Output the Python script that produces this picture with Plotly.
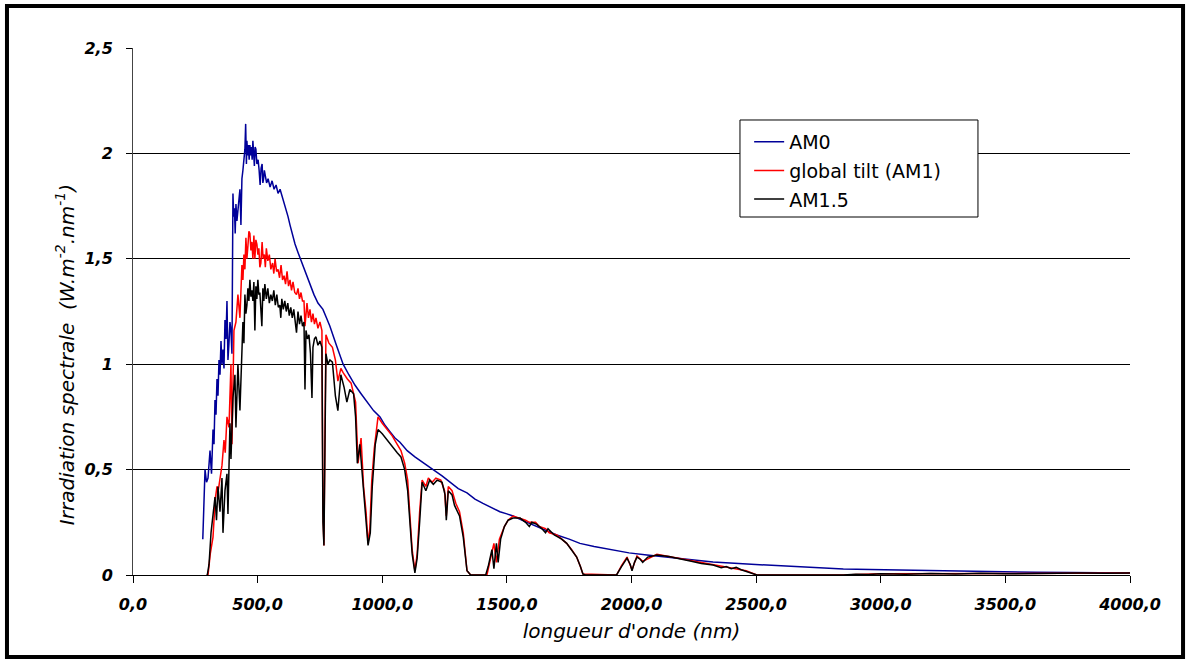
import plotly.graph_objects as go

# Spectral irradiance (W.m-2.nm-1) against wavelength (nm), read as (nm, value) pairs
AM0 = [
    (280, 0.17), (289, 0.50), (295, 0.44), (301, 0.46), (309, 0.59), (315, 0.48),
    (321, 0.69), (325, 0.62), (329, 0.83), (333, 0.76), (337, 0.93), (341, 0.85),
    (345, 1.02), (349, 0.95), (353, 1.11), (357, 1.00), (361, 1.07), (365, 0.98),
    (369, 1.21), (373, 1.12), (377, 1.30), (381, 1.02), (385, 1.10), (389, 1.20),
    (393, 1.16), (397, 1.05), (401, 1.81), (404, 1.70), (407, 1.74), (410, 1.62),
    (413, 1.76), (417, 1.68), (421, 1.73), (425, 1.80), (429, 1.83), (433, 1.66),
    (437, 1.88), (441, 1.92), (445, 1.98), (449, 2.02), (452, 2.14), (455, 1.95),
    (457, 2.06), (460, 1.99), (463, 2.04), (466, 1.97), (469, 2.04), (472, 1.99),
    (475, 2.03), (478, 1.97), (481, 2.06), (484, 1.98), (487, 1.94), (490, 2.03),
    (493, 2.02), (497, 1.95), (502, 1.97), (506, 1.92), (510, 1.85), (514, 1.93),
    (518, 1.95), (521, 1.86), (524, 1.88), (527, 1.92), (530, 1.90), (536, 1.86),
    (542, 1.88), (550, 1.84), (558, 1.87), (566, 1.83), (574, 1.85), (582, 1.81),
    (590, 1.83), (598, 1.80), (606, 1.76), (614, 1.73), (622, 1.70), (630, 1.66),
    (638, 1.62), (650, 1.57), (662, 1.53), (678, 1.48), (694, 1.42), (710, 1.37),
    (726, 1.33), (742, 1.29), (762, 1.26), (776, 1.22), (790, 1.18), (816, 1.09),
    (843, 1.00), (866, 0.95), (891, 0.90), (915, 0.86), (939, 0.82), (965, 0.78),
    (991, 0.75), (1011, 0.71), (1031, 0.68), (1051, 0.65), (1071, 0.63), (1100, 0.59),
    (1131, 0.56), (1165, 0.53), (1204, 0.50), (1240, 0.47), (1272, 0.44), (1305, 0.41),
    (1340, 0.39), (1372, 0.36), (1404, 0.34), (1440, 0.32), (1472, 0.30), (1500, 0.29),
    (1525, 0.28), (1560, 0.26), (1600, 0.24), (1653, 0.21), (1700, 0.19), (1750, 0.17),
    (1793, 0.15), (1850, 0.135), (1914, 0.12), (1990, 0.105), (2062, 0.095), (2130, 0.086),
    (2195, 0.077), (2260, 0.069), (2327, 0.062), (2430, 0.054), (2544, 0.047), (2640, 0.040),
    (2744, 0.033), (2850, 0.029), (2957, 0.026), (3080, 0.023), (3198, 0.020), (3340, 0.017),
    (3478, 0.015), (3620, 0.013), (3759, 0.012), (3880, 0.011), (4000, 0.010),
]

GLOBAL_TILT = [
    (295, 0.0), (301, 0.0), (310, 0.10), (321, 0.18), (330, 0.36), (337, 0.42),
    (342, 0.40), (350, 0.48), (357, 0.52), (365, 0.64), (370, 0.58), (377, 0.75),
    (385, 0.70), (393, 1.00), (397, 0.62), (405, 1.16), (413, 1.20), (421, 1.33),
    (429, 1.22), (437, 1.47), (441, 1.40), (445, 1.52), (449, 1.45), (453, 1.60),
    (457, 1.50), (461, 1.56), (465, 1.63), (469, 1.62), (473, 1.54), (477, 1.58),
    (481, 1.50), (485, 1.61), (489, 1.50), (493, 1.59), (497, 1.57), (501, 1.52),
    (505, 1.55), (509, 1.46), (513, 1.48), (518, 1.58), (522, 1.50), (527, 1.52),
    (531, 1.46), (535, 1.55), (541, 1.49), (547, 1.52), (553, 1.45), (560, 1.48),
    (565, 1.43), (570, 1.50), (576, 1.44), (582, 1.45), (588, 1.41), (594, 1.47),
    (600, 1.40), (606, 1.42), (612, 1.38), (618, 1.44), (624, 1.37), (630, 1.40),
    (636, 1.35), (642, 1.39), (649, 1.34), (656, 1.33), (662, 1.36), (668, 1.31),
    (674, 1.34), (680, 1.30), (686, 1.30), (690, 1.18), (698, 1.29), (704, 1.22),
    (710, 1.26), (716, 1.20), (722, 1.24), (728, 1.19), (734, 1.22), (742, 1.17),
    (750, 1.20), (758, 1.16), (762, 0.30), (766, 0.14), (770, 0.80), (774, 1.14),
    (786, 1.10), (800, 1.08), (812, 1.02), (822, 0.92), (834, 0.98), (843, 0.96),
    (860, 0.93), (875, 0.91), (893, 0.82), (903, 0.53), (915, 0.65), (925, 0.42),
    (935, 0.30), (943, 0.15), (950, 0.22), (958, 0.45), (968, 0.60), (983, 0.75),
    (1000, 0.72), (1019, 0.69), (1040, 0.66), (1060, 0.62), (1075, 0.59), (1090, 0.53),
    (1102, 0.45), (1110, 0.30), (1120, 0.12), (1131, 0.02), (1140, 0.10), (1150, 0.30),
    (1160, 0.45), (1175, 0.42), (1185, 0.46), (1200, 0.44), (1215, 0.46), (1235, 0.45),
    (1250, 0.40), (1257, 0.28), (1265, 0.42), (1280, 0.40), (1295, 0.34), (1310, 0.30),
    (1325, 0.20), (1340, 0.02), (1355, 0.0), (1420, 0.0), (1430, 0.05), (1448, 0.15),
    (1458, 0.06), (1470, 0.17), (1490, 0.23), (1505, 0.26), (1525, 0.28), (1553, 0.27),
    (1575, 0.26), (1590, 0.25), (1615, 0.25), (1630, 0.23), (1655, 0.22), (1670, 0.20),
    (1700, 0.19), (1720, 0.17), (1740, 0.15), (1760, 0.12), (1780, 0.085), (1795, 0.04),
    (1805, 0.005), (1940, 0.0), (1960, 0.045), (1982, 0.085), (2002, 0.025), (2022, 0.09),
    (2045, 0.065), (2102, 0.098), (2195, 0.078), (2327, 0.05), (2400, 0.035), (2460, 0.02),
    (2503, 0.0), (2850, 0.0), (3000, 0.006), (3500, 0.007), (4000, 0.009),
]

AM15 = [
    (298, 0.0), (305, 0.05), (313, 0.20), (321, 0.28), (329, 0.37), (335, 0.26),
    (341, 0.42), (349, 0.30), (357, 0.46), (361, 0.20), (369, 0.40), (377, 0.48),
    (381, 0.29), (389, 0.72), (393, 0.55), (401, 0.84), (409, 0.95), (413, 0.70),
    (421, 1.00), (429, 0.78), (433, 0.95), (441, 1.20), (445, 1.10), (449, 1.33),
    (453, 1.24), (457, 1.28), (461, 1.36), (465, 1.30), (469, 1.40), (473, 1.32),
    (477, 1.35), (481, 1.30), (485, 1.39), (489, 1.16), (493, 1.37), (497, 1.31),
    (501, 1.40), (505, 1.33), (509, 1.34), (513, 1.28), (517, 1.18), (521, 1.36),
    (525, 1.30), (529, 1.38), (535, 1.31), (541, 1.36), (547, 1.29), (553, 1.33),
    (559, 1.30), (565, 1.35), (571, 1.28), (577, 1.33), (583, 1.27), (589, 1.28),
    (593, 1.22), (597, 1.31), (603, 1.26), (609, 1.30), (615, 1.25), (621, 1.29),
    (627, 1.23), (633, 1.27), (639, 1.22), (645, 1.26), (651, 1.21), (656, 1.15),
    (662, 1.25), (668, 1.19), (674, 1.23), (680, 1.18), (686, 1.20), (690, 0.88),
    (694, 1.16), (700, 1.12), (706, 1.14), (712, 1.05), (718, 0.84), (722, 1.08),
    (728, 1.12), (734, 1.13), (742, 1.09), (750, 1.11), (758, 1.08), (762, 0.25),
    (766, 0.14), (770, 0.70), (774, 1.05), (782, 1.00), (790, 1.02), (800, 1.01),
    (812, 0.85), (822, 0.78), (834, 0.95), (847, 0.89), (858, 0.82), (870, 0.88),
    (885, 0.86), (893, 0.75), (900, 0.53), (910, 0.62), (925, 0.38), (935, 0.25),
    (943, 0.14), (952, 0.20), (960, 0.42), (972, 0.62), (983, 0.69), (1000, 0.67),
    (1019, 0.64), (1040, 0.61), (1060, 0.58), (1075, 0.56), (1090, 0.50), (1102, 0.40),
    (1110, 0.25), (1120, 0.10), (1131, 0.01), (1140, 0.08), (1150, 0.25), (1160, 0.44),
    (1175, 0.40), (1190, 0.45), (1205, 0.43), (1220, 0.45), (1240, 0.44), (1252, 0.38),
    (1257, 0.26), (1265, 0.40), (1280, 0.38), (1290, 0.33), (1310, 0.28), (1325, 0.18),
    (1340, 0.02), (1355, 0.0), (1415, 0.0), (1425, 0.04), (1440, 0.12), (1448, 0.03),
    (1458, 0.15), (1465, 0.06), (1475, 0.17), (1490, 0.23), (1505, 0.26), (1525, 0.27),
    (1553, 0.27), (1575, 0.25), (1590, 0.23), (1600, 0.25), (1620, 0.24), (1640, 0.22),
    (1655, 0.20), (1665, 0.22), (1690, 0.19), (1720, 0.17), (1740, 0.15), (1760, 0.12),
    (1780, 0.085), (1795, 0.04), (1805, 0.005), (1815, 0.0), (1940, 0.0), (1960, 0.04),
    (1982, 0.08), (1995, 0.05), (2002, 0.02), (2012, 0.06), (2022, 0.085), (2035, 0.075),
    (2045, 0.06), (2065, 0.085), (2102, 0.095), (2150, 0.088), (2195, 0.075), (2240, 0.065),
    (2280, 0.055), (2327, 0.047), (2360, 0.035), (2380, 0.040), (2400, 0.030), (2420, 0.036),
    (2440, 0.025), (2460, 0.018), (2480, 0.010), (2503, 0.0), (2850, 0.0), (2900, 0.004),
    (2950, 0.002), (3000, 0.006), (3100, 0.004), (3200, 0.007), (3300, 0.005), (3400, 0.008),
    (3500, 0.006), (3600, 0.008), (3700, 0.007), (3800, 0.009), (3900, 0.008), (4000, 0.009),
]

SERIES_NAMES = ["AM0", "global tilt (AM1)", "AM1.5"]
SERIES_COLORS = ["#000099", "#ff0000", "#000000"]

X_TICKS = [0, 500, 1000, 1500, 2000, 2500, 3000, 3500, 4000]
X_TICK_TEXT = ["0,0", "500,0", "1000,0", "1500,0", "2000,0", "2500,0", "3000,0", "3500,0", "4000,0"]
Y_TICKS = [0, 0.5, 1, 1.5, 2, 2.5]
Y_TICK_TEXT = ["0", "0,5", "1", "1,5", "2", "2,5"]

TICK_FONT = dict(family="DejaVu Sans", size=16, color="black", weight="bold", style="italic")
TITLE_FONT = dict(family="DejaVu Sans", size=20, color="black", style="italic")

fig = go.Figure()
for name, color, data in zip(SERIES_NAMES, SERIES_COLORS, [AM0, GLOBAL_TILT, AM15]):
    xs = [p[0] for p in data]
    ys = [p[1] for p in data]
    fig.add_trace(go.Scatter(
        x=xs, y=ys, mode="lines", name=name, legendgroup=name,
        line=dict(color=color, width=1.5),
    ))

# plot area: 133..1130 px horizontally, 48..575 px vertically
fig.update_layout(
    width=1190, height=664,
    margin=dict(l=133, r=60, t=48, b=89),
    paper_bgcolor="white", plot_bgcolor="white",
    showlegend=True,
    legend=dict(
        x=0.618, y=0.858, xanchor="left", yanchor="top",
        bgcolor="rgba(0,0,0,0)", borderwidth=0,
        font=dict(family="DejaVu Sans", size=19, color="black"),
        tracegroupgap=1,
    ),
    xaxis=dict(
        range=[0, 4000], tickvals=X_TICKS, ticktext=X_TICK_TEXT,
        showgrid=False, zeroline=False,
        showline=True, linecolor="black", linewidth=1,
        ticks="outside", ticklen=7, tickcolor="black",
        tickfont=TICK_FONT, ticklabelstandoff=8,
        title=dict(text="longueur d'onde (nm)", font=TITLE_FONT, standoff=10),
    ),
    yaxis=dict(
        range=[0, 2.5], tickvals=Y_TICKS, ticktext=Y_TICK_TEXT,
        showgrid=True, gridcolor="black", gridwidth=1, zeroline=False,
        showline=True, linecolor="#444444", linewidth=1,
        ticks="outside", ticklen=6, tickcolor="black",
        tickfont=TICK_FONT, ticklabelstandoff=10,
    ),
    annotations=[dict(
        text="Irradiation spectrale  (W.m<sup>-2</sup>.nm<sup>-1</sup>)",
        xref="paper", yref="paper", x=-0.068, y=0.4175,
        xanchor="center", yanchor="middle", textangle=-90,
        showarrow=False, font=TITLE_FONT,
    )],
    shapes=[
        # legend frame
        dict(type="rect", xref="paper", yref="paper",
             x0=0.6088, x1=0.8475, y0=0.6793, y1=0.8634,
             line=dict(color="black", width=1), fillcolor="white", layer="above"),
        # outer frame around the whole figure
        dict(type="rect", xref="paper", yref="paper",
             x0=-0.1264, x1=1.0532, y0=-0.1556, y1=1.0797,
             line=dict(color="black", width=4), fillcolor="rgba(0,0,0,0)", layer="above"),
    ],
)

fig.write_html("out.html")
